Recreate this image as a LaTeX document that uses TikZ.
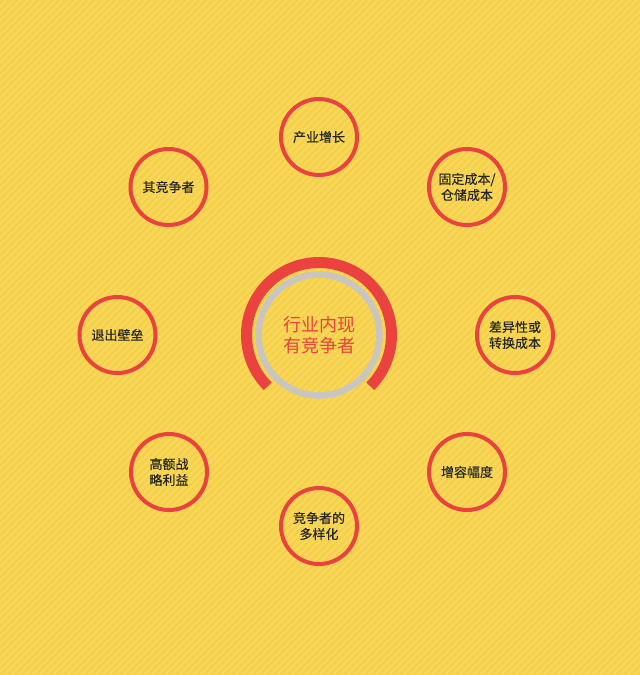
\documentclass[tikz,border=0pt]{standalone}
\usepackage{fontspec}
\newfontfamily\cjk[FakeBold=0.3]{Noto Sans CJK SC}
\newfontfamily\cjkc{Noto Sans CJK SC}
\definecolor{bgyellow}{HTML}{F5D049}
\definecolor{stripe}{HTML}{F8D85C}
\definecolor{ringred}{HTML}{E9423F}
\definecolor{ringgray}{HTML}{C9C6C0}
\definecolor{txt}{HTML}{262626}
\tikzset{
  factor/.style={circle, draw=ringred, line width=4pt, minimum size=76pt, inner sep=0pt,
    align=center, text=txt, font=\cjk\fontsize{13pt}{16pt}\selectfont},
  centertext/.style={align=center, text=ringred, font=\cjkc\fontsize{18pt}{21pt}\selectfont}
}
\begin{document}
\begin{tikzpicture}[x=1pt,y=-1pt]
\useasboundingbox (0,0) rectangle (640,675);
\fill[bgyellow] (0,0) rectangle (640,675);
\begin{scope}
\clip (0,0) rectangle (640,675);
\foreach \s in {-680,-673,...,650} {
  \draw[stripe, line width=2.2pt] (\s,680) -- (\s+680,0);
}
\end{scope}
% center
\coordinate (o) at (319,335);
\draw[ringgray, line width=6.5pt] (o) circle[radius=60.5];
\draw[ringred, line width=11pt] (o) ++(135:72.5) arc[start angle=135, end angle=405, radius=72.5];
\node[centertext] (c) at (o) {行业内现\\有竞争者};
% factors
\node[factor] (f1) at (319,137) {产业增长};
\node[factor] (f2) at (467,187) {固定成本/\\仓储成本};
\node[factor] (f3) at (515,335) {差异性或\\转换成本};
\node[factor] (f4) at (467,472) {增容幅度};
\node[factor] (f5) at (319,526) {竞争者的\\多样化};
\node[factor] (f6) at (169,472) {高额战\\略利益};
\node[factor] (f7) at (117.5,335) {退出壁垒};
\node[factor] (f8) at (168.5,187) {其竞争者};
\end{tikzpicture}
\end{document}
